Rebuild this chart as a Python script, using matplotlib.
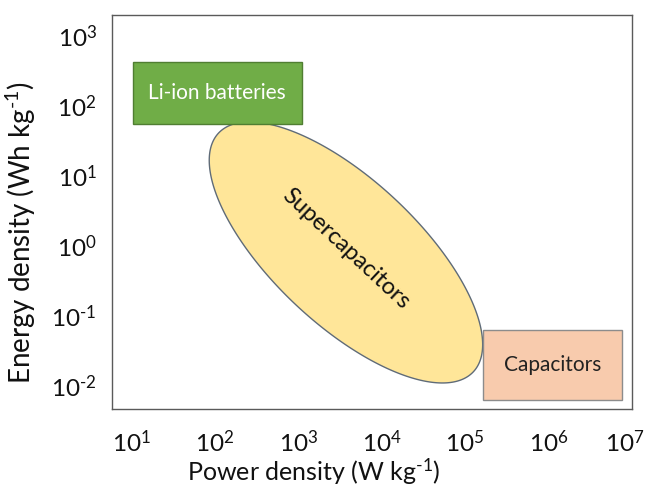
import numpy as np
import matplotlib
matplotlib.use("Agg")
import matplotlib.pyplot as plt
from matplotlib.patches import Rectangle
from matplotlib.transforms import ScaledTranslation

plt.rcParams['font.family'] = ['Lato', 'DejaVu Sans']
plt.rcParams['mathtext.fontset'] = 'custom'
plt.rcParams['mathtext.rm'] = 'Lato'
plt.rcParams['mathtext.it'] = 'Lato:italic'

# ---- data ----
power_ticks = [1e1, 1e2, 1e3, 1e4, 1e5, 1e6, 1e7]
power_exps = [1, 2, 3, 4, 5, 6, 7]
energy_ticks = [1e-2, 1e-1, 1e0, 1e1, 1e2, 1e3]
energy_exps = [-2, -1, 0, 1, 2, 3]

li_ion_power = [10.5, 1100]        # W/kg range
li_ion_energy = [54, 420]          # Wh/kg range
cap_power = [1.66e5, 7.6e6]
cap_energy = [0.0062, 0.062]
supercap_center = [10**3.573, 10**-0.103]   # (power, energy)
# conjugate semi-axes of supercapacitor region in decades
supercap_major = [1.526, -1.706]
supercap_minor = [-0.595, -0.754]

HY = '\u2010'  # hyphen used in superscripts


def sup_label(e):
    s = str(e).replace('-', HY)
    return '$\\mathregular{10^{%s}}$' % s


fig = plt.figure(figsize=(6.47, 4.88), dpi=100)
ax = fig.add_axes([0.1731, 0.1619, 0.8037, 0.8074])
ax.set_xscale('log')
ax.set_yscale('log')
ax.set_xlim(10**0.77, 10**7.0)
ax.set_ylim(10**-2.34, 10**3.29)

# Supercapacitor ellipse
t = np.linspace(0, 2 * np.pi, 400)
lx = np.log10(supercap_center[0]) + supercap_major[0] * np.cos(t) + supercap_minor[0] * np.sin(t)
ly = np.log10(supercap_center[1]) + supercap_major[1] * np.cos(t) + supercap_minor[1] * np.sin(t)
ax.fill(10**lx, 10**ly, facecolor='#FFE699', edgecolor='#5F6B78', linewidth=1.0, zorder=2)
ax.text(supercap_center[0], supercap_center[1] * 10**0.05, 'Supercapacitors', rotation=-43,
        ha='center', va='center', fontsize=17, color='#111111', zorder=4,
        rotation_mode='anchor')

# Li-ion rectangle
ax.add_patch(Rectangle((li_ion_power[0], li_ion_energy[0]),
                       li_ion_power[1] - li_ion_power[0], li_ion_energy[1] - li_ion_energy[0],
                       facecolor='#70AD47', edgecolor='#507E32', linewidth=1.0, zorder=3))
ax.text(np.sqrt(li_ion_power[0] * li_ion_power[1]), np.sqrt(li_ion_energy[0] * li_ion_energy[1]),
        'Li-ion batteries', ha='center', va='center', fontsize=15, color='white', zorder=4)

# Capacitors rectangle
ax.add_patch(Rectangle((cap_power[0], cap_energy[0]),
                       cap_power[1] - cap_power[0], cap_energy[1] - cap_energy[0],
                       facecolor='#F8CBAD', edgecolor='#8C8C8C', linewidth=1.0, zorder=3))
ax.text(np.sqrt(cap_power[0] * cap_power[1]), np.sqrt(cap_energy[0] * cap_energy[1]),
        'Capacitors', ha='center', va='center', fontsize=15, color='#222222', zorder=4)

ax.set_xticks(power_ticks)
ax.set_xticklabels([sup_label(e) for e in power_exps])
ax.set_yticks(energy_ticks)
ax.set_yticklabels([sup_label(e) for e in energy_exps])
ax.minorticks_off()
ax.tick_params(axis='both', length=0, labelsize=17.5, colors='#111111')
ax.tick_params(axis='x', pad=15)
ax.tick_params(axis='y', pad=11)

# keep the last x label inside the canvas
last = ax.get_xticklabels()[-1]
last.set_transform(last.get_transform() + ScaledTranslation(-5 / 72, 0, fig.dpi_scale_trans))

for s in ax.spines.values():
    s.set_color('#5A5A5A')
    s.set_linewidth(1.0)

ax.set_xlabel('Power density (W kg$^{\\mathregular{%s1}}$)' % HY, fontsize=18, color='#111111')
ax.xaxis.set_label_coords(0.388, -0.120)
ax.set_ylabel('Energy density (Wh kg$^{\\mathregular{%s1}}$)' % HY, fontsize=20, color='#111111')
ax.yaxis.set_label_coords(-0.143, 0.447)

fig.savefig('out.png', dpi=100)
